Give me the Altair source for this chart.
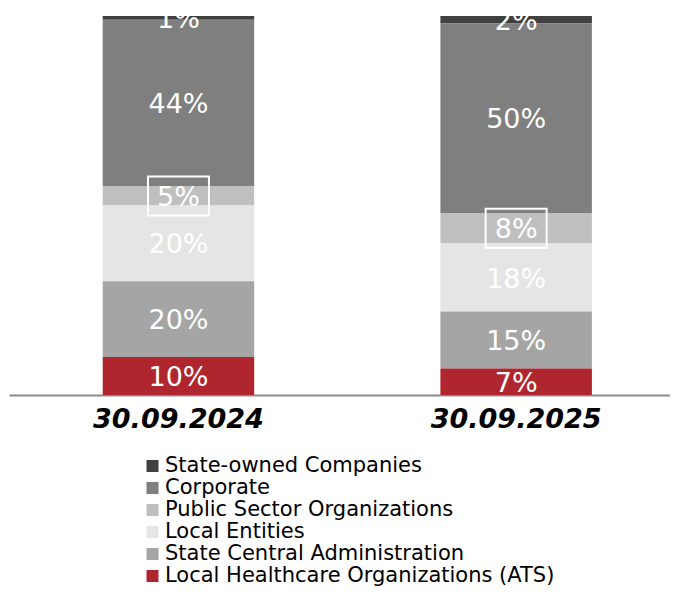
import altair as alt
import pandas as pd

# ---- data ----
dates = ["30.09.2024", "30.09.2025"]
categories = [
    "State-owned Companies",
    "Corporate",
    "Public Sector Organizations",
    "Local Entities",
    "State Central Administration",
    "Local Healthcare Organizations (ATS)",
]
colors = ["#404040", "#7f7f7f", "#bfbfbf", "#e5e5e5", "#a5a5a5", "#b0262f"]
values_2024 = [1, 44, 5, 20, 20, 10]
values_2025 = [2, 50, 8, 18, 15, 7]
boxed_category = "Public Sector Organizations"

rows = []
for d, vals in zip(dates, [values_2024, values_2025]):
    for i, (c, v) in enumerate(zip(categories, vals)):
        rows.append({
            "date": d,
            "category": c,
            "value": v,
            "label": f"{v}%",
            "stack_idx": len(categories) - 1 - i,  # ATS at the bottom
        })
df = pd.DataFrame(rows)

FONT = "DejaVu Sans"

x_enc = alt.X(
    "date:N",
    sort=dates,
    title=None,
    scale=alt.Scale(paddingInner=0.5514, paddingOuter=0.2544, align=0.5454),
    axis=alt.Axis(
        labelAngle=0,
        labelFont=FONT,
        labelFontSize=27,
        labelFontWeight="bold",
        labelFontStyle="italic",
        labelColor="#000000",
        labelBaseline="middle",
        labelPadding=24.5,
        ticks=False,
        tickSize=0,
        domainColor="#8c8c8c",
        domainWidth=2,
        grid=False,
    ),
)
y_scale = alt.Scale(domain=[0, 100], nice=False, zero=True)

base = alt.Chart(df)

bars = base.mark_bar().encode(
    x=x_enc,
    y=alt.Y("value:Q", stack="zero", scale=y_scale, axis=None),
    color=alt.Color(
        "category:N",
        scale=alt.Scale(domain=categories, range=colors),
        legend=alt.Legend(
            title=None,
            orient="none",
            legendX=133,
            legendY=439.5,
            symbolType="square",
            symbolSize=144,
            symbolStrokeWidth=0,
            labelFont=FONT,
            labelFontSize=21,
            labelColor="#000000",
            labelOffset=2,
            labelLimit=0,
            rowPadding=0,
            padding=0,
        ),
    ),
    order=alt.Order("stack_idx:Q", sort="ascending"),
)

stacked = base.transform_stack(
    stack="value",
    groupby=["date"],
    as_=["y0", "y1"],
    sort=[alt.SortField("stack_idx", order="ascending")],
).transform_calculate(mid="(datum.y0 + datum.y1) / 2")

labels = stacked.mark_text(
    font=FONT, fontSize=27, color="white", baseline="middle", align="center", dy=2
).encode(
    x=alt.X("date:N", sort=dates),
    y=alt.Y("mid:Q", scale=y_scale),
    text="label:N",
)

box = stacked.transform_filter(
    alt.datum.category == boxed_category
).transform_calculate(
    b0="datum.mid - 5.15", b1="datum.mid + 5.15"
).mark_bar(
    width=61, fillOpacity=0, stroke="white", strokeWidth=2
).encode(
    x=alt.X("date:N", sort=dates),
    y=alt.Y("b0:Q", scale=y_scale),
    y2="b1:Q",
)

chart = (
    alt.layer(bars, labels, box)
    .properties(
        width=661,
        height=379,
        autosize=alt.AutoSizeParams(type="none"),
        padding={"left": 1, "top": 8, "right": 0, "bottom": 191},
        background="white",
    )
    .configure_view(stroke=None)
)

chart.save("out.html", embed_options={"renderer": "svg", "actions": False})
